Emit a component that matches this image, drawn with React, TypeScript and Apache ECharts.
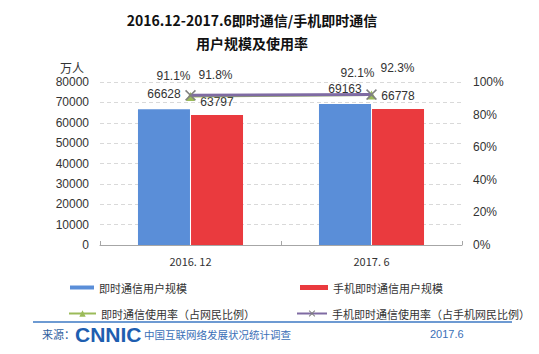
import React, { useEffect, useRef } from "react";
import * as echarts from "echarts";

const categories = ["2016. 12", "2017. 6"];
const imUsers = [66628, 69163];
const mobileImUsers = [63797, 66778];
const imRate = [91.1, 92.1];
const mobileImRate = [91.8, 92.3];
const leftTicks = { min: 0, max: 80000, interval: 10000 };
const rightTicks = { min: 0, max: 100, interval: 20 };
const seriesNames = [
  "即时通信用户规模",
  "手机即时通信用户规模",
  "即时通信使用率（占网民比例）",
  "手机即时通信使用率（占手机网民比例）",
];

const FONT = "'Liberation Sans', Arial, 'Noto Sans CJK SC', sans-serif";
const CJK = "'Noto Sans CJK SC', 'Liberation Sans', sans-serif";

export default function App() {
  const ref = useRef<HTMLDivElement>(null);
  useEffect(() => {
    if (!ref.current) return;
    const chart = echarts.init(ref.current, null, { renderer: "svg" });
    const imRateOffsets = [[-17, -21], [-14, -22]];
    const mobRateOffsets = [[25, -20], [26, -27]];
    const crossPath =
      "path://M0,1L1,0L5,4L9,0L10,1L6,5L10,9L9,10L5,6L1,10L0,9L4,5Z";
    const legendText = { fontSize: 11, color: "#333", fontFamily: CJK };
    chart.setOption({
      animation: false,
      backgroundColor: "#ffffff",
      grid: { left: 100, right: 77, top: 82, bottom: 109 },
      legend: [
        {
          left: 65, top: 277, itemWidth: 24, itemHeight: 4, icon: "rect",
          data: [seriesNames[0]], textStyle: legendText,
        },
        {
          left: 295, top: 277, itemWidth: 28, itemHeight: 5, icon: "rect",
          data: [seriesNames[1]], textStyle: legendText,
        },
        {
          left: 63, top: 303, itemWidth: 27, itemHeight: 8,
          data: [seriesNames[2]], textStyle: legendText,
        },
        {
          left: 291, top: 303, itemWidth: 30, itemHeight: 8,
          data: [seriesNames[3]], textStyle: legendText,
        },
      ],
      xAxis: {
        type: "category",
        data: categories,
        axisLine: { lineStyle: { color: "#A6A6A6" } },
        axisTick: { show: true, inside: true, length: 4, lineStyle: { color: "#A6A6A6" } },
        axisLabel: { color: "#333", fontSize: 11, fontFamily: CJK, margin: 10 },
      },
      yAxis: [
        {
          type: "value",
          ...leftTicks,
          name: "万人",
          nameLocation: "end",
          nameGap: 9,
          nameTextStyle: { color: "#333", fontSize: 12, fontFamily: CJK, align: "right", padding: [0, 16, 0, 0] },
          axisLine: { show: false },
          axisTick: { show: false },
          axisLabel: { color: "#333", fontSize: 12, fontFamily: FONT, margin: 11, formatter: (v: number) => String(v) },
          splitLine: { lineStyle: { color: "#D9D9D9", type: [4, 3] } },
        },
        {
          type: "value",
          ...rightTicks,
          axisLine: { show: false },
          axisTick: { show: false },
          splitLine: { show: false },
          axisLabel: { color: "#333", fontSize: 12, fontFamily: FONT, margin: 11, formatter: "{value}%" },
        },
      ],
      series: [
        {
          name: seriesNames[0],
          type: "bar",
          data: imUsers,
          barWidth: 52,
          barGap: "2%",
          itemStyle: { color: "#5A8ED8" },
          label: { show: true, position: "top", distance: 9, color: "#333", fontSize: 12, fontFamily: FONT },
        },
        {
          name: seriesNames[1],
          type: "bar",
          data: mobileImUsers,
          barWidth: 52,
          barGap: "2%",
          itemStyle: { color: "#EA3A3E" },
          label: { show: true, position: "top", distance: 7, color: "#333", fontSize: 12, fontFamily: FONT },
        },
        {
          name: seriesNames[2],
          type: "line",
          yAxisIndex: 1,
          data: imRate.map((v, i) => ({
            value: v,
            label: { offset: imRateOffsets[i] },
          })),
          symbol: "triangle",
          symbolSize: 9,
          lineStyle: { color: "#9BBB59", width: 2 },
          itemStyle: { color: "#9BBB59" },
          z: 3,
          label: {
            show: true, position: "inside", color: "#333", fontSize: 12, fontFamily: FONT,
            formatter: (p: any) => p.value + "%",
          },
        },
        {
          name: seriesNames[3],
          type: "line",
          yAxisIndex: 1,
          data: mobileImRate.map((v, i) => ({
            value: v,
            label: { offset: mobRateOffsets[i] },
          })),
          symbol: crossPath,
          symbolSize: 11,
          lineStyle: { color: "#7F6BA3", width: 3 },
          itemStyle: { color: "#808080" },
          z: 4,
          label: {
            show: true, position: "inside", color: "#333", fontSize: 12, fontFamily: FONT,
            formatter: (p: any) => p.value + "%",
          },
        },
      ],
      graphic: [
        {
          type: "text", x: 252, y: 20,
          style: {
            text: "2016.12-2017.6即时通信/手机即时通信", fill: "#111",
            font: "bold 14px 'Noto Sans CJK SC', sans-serif", align: "center", verticalAlign: "middle",
          },
        },
        {
          type: "text", x: 252, y: 43,
          style: {
            text: "用户规模及使用率", fill: "#111",
            font: "bold 14px 'Noto Sans CJK SC', sans-serif", align: "center", verticalAlign: "middle",
          },
        },
        {
          type: "line",
          shape: { x1: 33, y1: 322, x2: 512, y2: 322 },
          style: { stroke: "#3C78C3", lineWidth: 1.5 },
        },
        {
          type: "text", x: 42, y: 334,
          style: {
            text: "来源：", fill: "#2E5E9E",
            font: "11px 'Noto Sans CJK SC', sans-serif", verticalAlign: "middle",
          },
        },
        {
          type: "text", x: 75, y: 334,
          style: {
            text: "CNNIC", fill: "#1E5EB0",
            font: "bold 21px 'Liberation Sans', sans-serif", verticalAlign: "middle",
          },
        },
        {
          type: "text", x: 144, y: 334,
          style: {
            text: "中国互联网络发展状况统计调查", fill: "#3A6FB7",
            font: "10.5px 'Noto Sans CJK SC', sans-serif", verticalAlign: "middle",
          },
        },
        {
          type: "text", x: 430, y: 334,
          style: {
            text: "2017.6", fill: "#3A6FB7",
            font: "11px 'Liberation Sans', sans-serif", verticalAlign: "middle",
          },
        },
      ],
    });
    return () => chart.dispose();
  }, []);
  return <div ref={ref} style={{ width: 539, height: 354, position: "absolute", left: 0, top: 0 }} />;
}
